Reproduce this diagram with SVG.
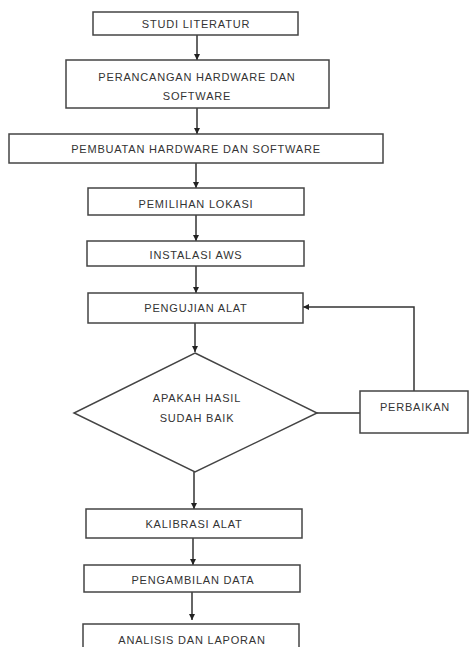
<svg xmlns="http://www.w3.org/2000/svg" width="470" height="647" viewBox="0 0 470 647">
<style>
.box{fill:#fff;stroke:#444;stroke-width:1.5}
.t{font-family:"Liberation Sans",Arial,sans-serif;font-size:11px;fill:#333;text-anchor:middle;letter-spacing:0.8px}
.c{fill:none;stroke:#333;stroke-width:1.5}
</style>
<defs>
<marker id="ah" viewBox="0 0 8 8" refX="8" refY="4" markerWidth="6" markerHeight="6" orient="auto" markerUnits="userSpaceOnUse">
<path d="M0,0L8,4L0,8Z" fill="#222"/>
</marker>
</defs>
<rect width="470" height="647" fill="#fff"/>
<g id="connectors">
<line class="c" x1="197" y1="35" x2="197" y2="60" marker-end="url(#ah)"/>
<line class="c" x1="197" y1="108" x2="197" y2="134" marker-end="url(#ah)"/>
<line class="c" x1="196" y1="163" x2="196" y2="188" marker-end="url(#ah)"/>
<line class="c" x1="196" y1="215" x2="196" y2="241" marker-end="url(#ah)"/>
<line class="c" x1="196" y1="266" x2="196" y2="293" marker-end="url(#ah)"/>
<line class="c" x1="195" y1="323" x2="195" y2="352" marker-end="url(#ah)"/>
<line class="c" x1="194" y1="472" x2="194" y2="509" marker-end="url(#ah)"/>
<line class="c" x1="193" y1="538" x2="193" y2="565" marker-end="url(#ah)"/>
<line class="c" x1="192" y1="592" x2="192" y2="620" marker-end="url(#ah)"/>
<line class="c" x1="317" y1="413" x2="360" y2="413"/>
<polyline class="c" points="414,391 414,307 303,307" marker-end="url(#ah)"/>
</g>
<g id="studi"><rect class="box" x="93" y="12" width="205" height="23"/><text class="t" x="196" y="28">STUDI LITERATUR</text></g>
<g id="perancangan"><rect class="box" x="66" y="60" width="263" height="48"/><text class="t" x="197" y="81">PERANCANGAN HARDWARE DAN</text><text class="t" x="197" y="100">SOFTWARE</text></g>
<g id="pembuatan"><rect class="box" x="9" y="134" width="374" height="29"/><text class="t" x="196" y="153">PEMBUATAN HARDWARE DAN SOFTWARE</text></g>
<g id="pemilihan"><rect class="box" x="88" y="188" width="216" height="27"/><text class="t" x="196" y="208">PEMILIHAN LOKASI</text></g>
<g id="instalasi"><rect class="box" x="87" y="241" width="217" height="25"/><text class="t" x="196" y="259">INSTALASI AWS</text></g>
<g id="pengujian"><rect class="box" x="88" y="293" width="215" height="30"/><text class="t" x="196" y="312">PENGUJIAN ALAT</text></g>
<g id="keputusan"><polygon class="box" points="195,353 317,413 195,472 74,413"/><text class="t" x="197" y="402">APAKAH HASIL</text><text class="t" x="197" y="422">SUDAH BAIK</text></g>
<g id="perbaikan"><rect class="box" x="360" y="391" width="108" height="42"/><text class="t" x="415" y="411">PERBAIKAN</text></g>
<g id="kalibrasi"><rect class="box" x="86" y="509" width="216" height="29"/><text class="t" x="194" y="528">KALIBRASI ALAT</text></g>
<g id="pengambilan"><rect class="box" x="84" y="565" width="216" height="27"/><text class="t" x="193" y="584">PENGAMBILAN DATA</text></g>
<g id="analisis"><rect class="box" x="83" y="624" width="216" height="30"/><text class="t" x="192" y="644">ANALISIS DAN LAPORAN</text></g>
</svg>
